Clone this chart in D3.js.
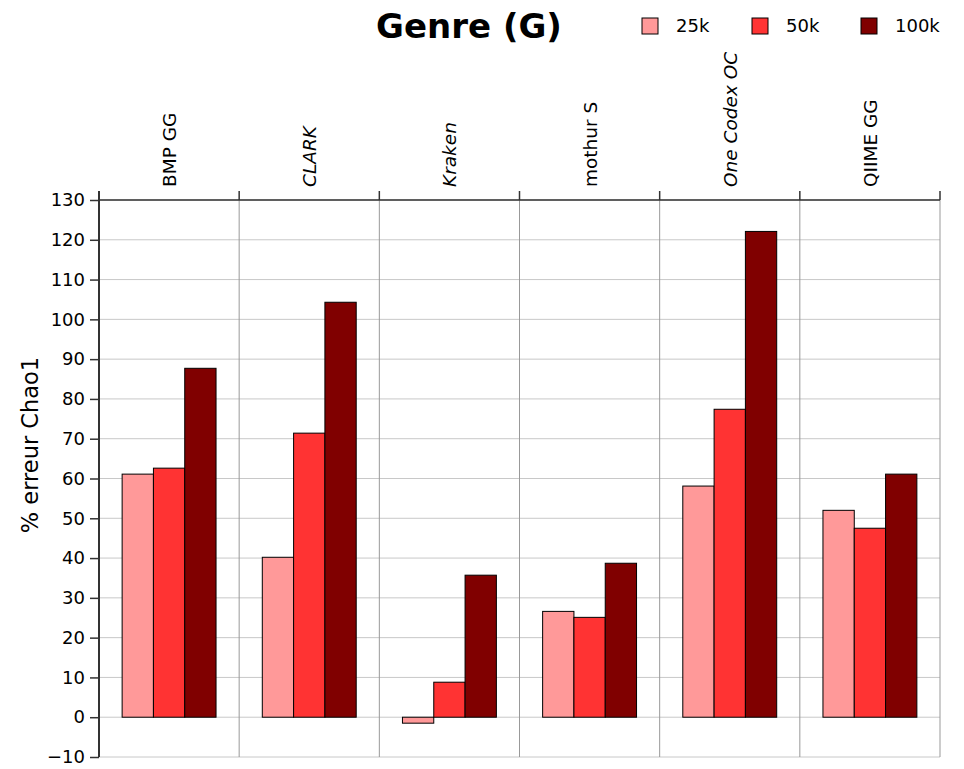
<!DOCTYPE html>
<html><head><meta charset="utf-8">
<script src="https://cdn.jsdelivr.net/npm/d3@7"></script>
<style>body{margin:0;background:#fff}svg{font-family:"DejaVu Sans",sans-serif}</style>
</head><body><svg id="c" width="964" height="769"></svg>
<script>
const categories = ["BMP GG","CLARK","Kraken","mothur S","One Codex OC","QIIME GG"];
const italicCats = ["CLARK","Kraken","One Codex OC"];
const seriesNames = ["25k","50k","100k"];
const colors = ["#ff9999","#ff3333","#800000"];
const v25k = [61.1, 40.2, -1.5, 26.6, 58.1, 52.0];
const v50k = [62.6, 71.4, 8.8, 25.1, 77.4, 47.5];
const v100k = [87.7, 104.3, 35.7, 38.7, 122.1, 61.1];
const yTicks = [-10,0,10,20,30,40,50,60,70,80,90,100,110,120,130];
const series = [v25k, v50k, v100k];

const svg = d3.select("#c");
const L=99, R=940, T=200, B=757;
const x = d3.scaleBand().domain(categories).range([L,R]).paddingInner(0).paddingOuter(0);
const y = d3.scaleLinear().domain([-10,130]).range([B,T]);
const bw = x.bandwidth();
const inner = d3.scaleBand().domain(seriesNames).range([bw*0.165, bw*0.835]);

// horizontal gridlines
svg.append("g").selectAll("line").data(yTicks).join("line")
  .attr("x1",L).attr("x2",R).attr("y1",d=>y(d)).attr("y2",d=>y(d))
  .attr("stroke","#c8c8c8").attr("stroke-width",1);
// vertical group separators
const bounds = categories.map(c=>x(c)).concat([R]);
svg.append("g").selectAll("line").data(bounds).join("line")
  .attr("x1",d=>d).attr("x2",d=>d).attr("y1",T).attr("y2",B)
  .attr("stroke","#999").attr("stroke-width",1);

// bars
series.forEach((vals,si)=>{
  svg.append("g").selectAll("rect").data(vals).join("rect")
    .attr("x",(d,i)=>x(categories[i])+inner(seriesNames[si]))
    .attr("width",inner.bandwidth())
    .attr("y",d=>Math.min(y(d),y(0)))
    .attr("height",d=>Math.abs(y(d)-y(0)))
    .attr("fill",colors[si]).attr("stroke","#000").attr("stroke-width",1);
});

// left axis
const ya = svg.append("g").attr("transform",`translate(${L},0)`)
  .call(d3.axisLeft(y).tickValues(yTicks).tickSize(9).tickPadding(5).tickFormat(d=>d<0?"\u2212"+Math.abs(d):d));
ya.select(".domain").remove();
ya.selectAll("text").attr("font-size",18).attr("font-family","DejaVu Sans").attr("fill","#000");
ya.selectAll("line").attr("stroke","#333").attr("stroke-width",1.5);
svg.append("line").attr("x1",L).attr("x2",L).attr("y1",191).attr("y2",B).attr("stroke","#333").attr("stroke-width",2);
// top axis
svg.append("line").attr("x1",L).attr("x2",R).attr("y1",T).attr("y2",T).attr("stroke","#333").attr("stroke-width",1.5);
svg.append("g").selectAll("line").data(bounds).join("line")
  .attr("x1",d=>d).attr("x2",d=>d).attr("y1",191).attr("y2",T)
  .attr("stroke","#333").attr("stroke-width",1.5);

// category labels
svg.append("g").selectAll("text").data(categories).join("text")
  .attr("transform",d=>`translate(${x(d)+bw/2+7},187) rotate(-90)`)
  .attr("text-anchor","start").attr("font-size",18.5)
  .attr("font-style",d=>italicCats.includes(d)?"italic":"normal")
  .text(d=>d);

// y label
svg.append("text").attr("transform","translate(38,445) rotate(-90)")
  .attr("text-anchor","middle").attr("font-size",22.5).text("% erreur Chao1");

// title
svg.append("text").attr("x",469).attr("y",38).attr("text-anchor","middle")
  .attr("font-size",34).attr("font-weight","bold").text("Genre (G)");

// legend
const legX = [642, 752, 861];
const lg = svg.append("g").selectAll("g").data(seriesNames).join("g")
  .attr("transform",(d,i)=>`translate(${legX[i]},18)`);
lg.append("rect").attr("width",16).attr("height",16)
  .attr("fill",(d,i)=>colors[i]).attr("stroke","#000").attr("stroke-width",1);
lg.append("text").attr("x",34).attr("y",14).attr("font-size",18).text(d=>d);
</script></body></html>
